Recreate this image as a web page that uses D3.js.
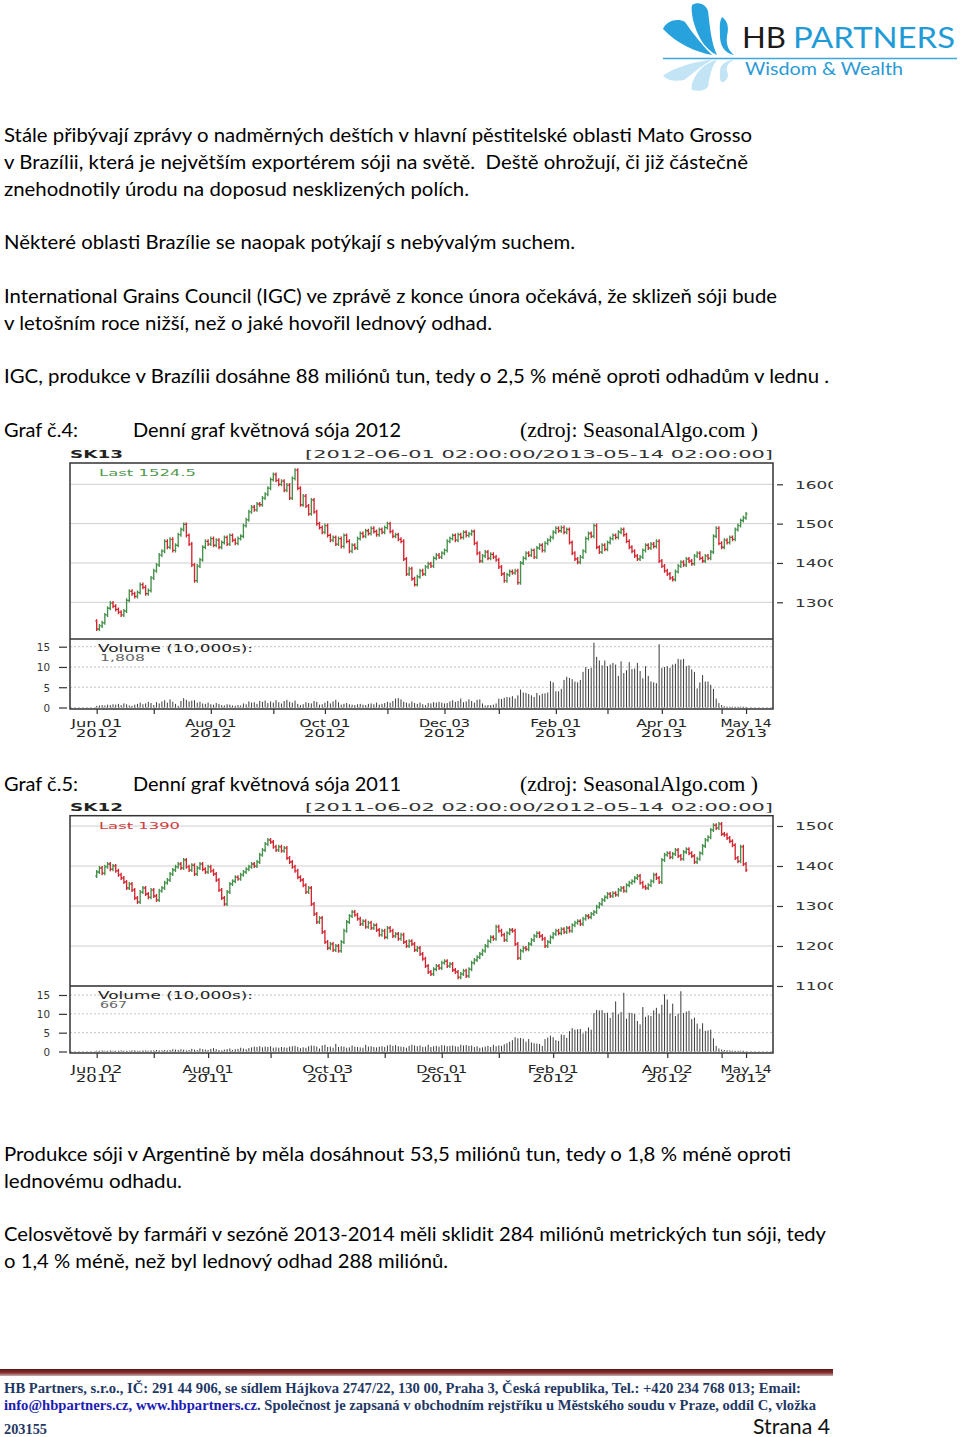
<!DOCTYPE html>
<html><head><meta charset="utf-8">
<script src="https://cdn.jsdelivr.net/npm/d3@7"></script>
<style>body{margin:0;background:#fff} svg{display:block} text{white-space:pre}</style>
</head><body>
<svg id="page" width="960" height="1437"></svg>
<script>
// ================= DATA =================
const bodyLinesTop = [
  "Stále přibývají zprávy o nadměrných deštích v hlavní pěstitelské oblasti Mato Grosso",
  "v Brazílii, která je největším exportérem sóji na světě.  Deště ohrožují, či již částečně",
  "znehodnotily úrodu na doposud nesklizených polích.",
  "Některé oblasti Brazílie se naopak potýkají s nebývalým suchem.",
  "International Grains Council (IGC) ve zprávě z konce února očekává, že sklizeň sóji bude",
  "v letošním roce nižší, než o jaké hovořil lednový odhad.",
  "IGC, produkce v Brazílii dosáhne 88 miliónů tun, tedy o 2,5 % méně oproti odhadům v lednu ."
];
const bodyLinesBottom = [
  "Produkce sóji v Argentině by měla dosáhnout 53,5 miliónů tun, tedy o 1,8 % méně oproti",
  "lednovému odhadu.",
  "Celosvětově by farmáři v sezóně 2013-2014 měli sklidit 284 miliónů metrických tun sóji, tedy",
  "o 1,4 % méně, než byl lednový odhad 288 miliónů."
];
const chartTitles = [
  ["Graf č.4:", "Denní graf květnová sója 2012", "(zdroj: SeasonalAlgo.com )"],
  ["Graf č.5:", "Denní graf květnová sója 2011", "(zdroj: SeasonalAlgo.com )"]
];

// ---- Chart 1: SK13 (2012-06-01 .. 2013-05-14) ----
const sk13Symbol = "SK13";
const sk13Range = "[2012-06-01 02:00:00/2013-05-14 02:00:00]";
const sk13Holidays = ["2012-07-04","2012-09-03","2012-11-22","2012-12-25","2013-01-01","2013-01-21","2013-02-18","2013-03-29"];
const sk13FirstOpen = 1252;
const sk13Close = [
  1232,1240,1248,1268,1285,1298,1290,1282,1275,1268,
  1278,1305,1328,1322,1315,1325,1345,1338,1322,1330,
  1362,1380,1395,1420,1430,1455,1440,1460,1432,1445,
  1472,1485,1498,1470,1448,1395,1355,1392,1408,1440,
  1455,1448,1462,1445,1458,1440,1452,1465,1448,1470,
  1458,1450,1462,1468,1495,1510,1530,1542,1535,1550,
  1548,1565,1575,1590,1612,1625,1610,1600,1608,1585,
  1598,1565,1615,1636,1590,1548,1570,1545,1525,1560,
  1530,1500,1490,1478,1495,1470,1458,1465,1448,1462,
  1442,1470,1455,1430,1445,1438,1462,1475,1468,1482,
  1475,1488,1480,1472,1485,1478,1490,1500,1480,1468,
  1472,1460,1455,1410,1372,1385,1360,1345,1365,1380,
  1372,1390,1398,1392,1412,1420,1415,1425,1432,1455,
  1462,1470,1458,1472,1465,1478,1470,1474,1480,1450,
  1425,1405,1418,1428,1412,1422,1415,1408,1390,1372,
  1355,1370,1378,1375,1380,1350,1400,1412,1425,1420,
  1432,1415,1438,1445,1432,1450,1458,1465,1478,1488,
  1482,1490,1478,1485,1452,1425,1410,1402,1415,1430,
  1462,1475,1468,1495,1440,1428,1445,1435,1452,1462,
  1470,1465,1478,1485,1472,1455,1440,1430,1418,1410,
  1415,1432,1445,1438,1448,1442,1455,1405,1392,1380,
  1372,1362,1358,1378,1392,1402,1395,1410,1405,1398,
  1418,1425,1412,1405,1418,1412,1428,1468,1488,1450,
  1440,1458,1452,1465,1460,1485,1495,1508,1515,1524.5
];
const sk13Volume = [
  0.4,0.5,0.6,0.5,0.7,0.6,0.8,0.7,0.9,0.6,1.0,0.8,
  0.5,0.4,0.7,0.9,1.2,0.8,1.0,1.4,1.1,0.6,
  1.3,1.0,1.5,1.8,1.2,2.0,1.4,0.9,0.4,
  1.6,2.3,1.9,1.5,1.7,1.8,1.2,1.4,
  1.0,0.9,1.2,0.8,0.7,1.1,0.9,0.6,0.5,0.8,0.7,0.5,0.4,0.6,0.5,1.0,0.8,
  1.5,1.2,1.3,0.9,1.6,1.4,1.7,1.1,1.5,1.2,1.8,1.3,1.0,1.6,1.9,1.4,1.2,1.7,0.9,0.6,0.8,1.3,1.1,1.0,1.6,1.4,0.7,
  0.8,1.2,1.6,1.0,1.5,1.9,1.3,0.7,0.9,1.1,0.8,0.7,0.6,0.8,0.9,0.7,0.6,0.9,1.0,0.8,1.2,0.7,0.9,1.1,1.4,
  1.2,1.6,2.2,2.3,2.0,1.4,1.2,1.0,1.5,1.1,0.9,1.2,0.8,0.6,1.1,1.0,1.3,1.2,1.4,
  1.2,1.0,1.1,1.5,1.8,1.4,1.6,2.2,1.3,1.5,2.0,1.6,1.2,1.9,2.0,
  1.0,0.5,0.6,0.6,0.7,1.0,
  2.2,2.1,2.4,2.6,2.5,2.8,2.2,3.0,
  4.4,3.7,3.6,3.3,3.0,2.6,3.6,3.0,3.4,3.5,
  3.7,6.5,6.2,4.0,4.0,4.6,
  6.8,7.6,7.3,7.0,6.4,6.2,6.8,8.8,10.0,9.5,9.8,
  16.0,
  12.5,11.6,10.4,11.6,10.2,10.6,11.0,10.6,7.8,
  11.4,8.5,9.2,11.2,9.5,9.6,11.0,9.0,7.2,10.2,7.8,6.4,6.2,
  6.0,
  15.6,
  9.8,10.0,10.2,9.8,10.6,10.8,12.0,11.8,12.0,
  10.2,10.4,9.4,8.8,4.7,6.2,8.0,6.4,6.4,5.6,4.6,2.2,1.1,0.6,0.3,0.2,0.2,0.2,0.2,0.2,0.2,0.2,0.18
];
const sk13PriceTicks = [1300,1400,1500,1600];
const sk13VolTicks = [0,5,10,15];
const sk13DateTicks = ["2012-06-01","2012-07-02","2012-08-01","2012-09-04","2012-10-01","2012-11-01","2012-12-03","2013-01-02","2013-02-01","2013-03-01","2013-04-01","2013-05-01","2013-05-14"];
const sk13DateLabels = ["2012-06-01","2012-08-01","2012-10-01","2012-12-03","2013-02-01","2013-04-01","2013-05-14"];
const sk13LastLabel = "Last 1524.5";
const sk13VolValue = "1,808";

// ---- Chart 2: SK12 (2011-06-02 .. 2012-05-14) ----
const sk12Symbol = "SK12";
const sk12Range = "[2011-06-02 02:00:00/2012-05-14 02:00:00]";
const sk12Holidays = ["2011-07-04","2011-09-05","2011-11-24","2011-12-26","2012-01-02","2012-01-16","2012-02-20","2012-04-06"];
const sk12FirstOpen = 1375;
const sk12Close = [
  1385,1395,1382,1398,1405,1392,1400,1388,1378,1370,
  1360,1345,1355,1340,1320,1310,1335,1345,1330,1322,
  1340,1325,1315,1338,1345,1358,1365,1380,1390,1398,
  1405,1395,1415,1398,1390,1402,1380,1395,1405,1392,
  1385,1398,1388,1380,1365,1340,1320,1305,1335,1355,
  1362,1372,1368,1378,1385,1392,1398,1405,1400,1410,
  1428,1440,1455,1465,1460,1448,1440,1448,1438,1445,
  1420,1410,1398,1388,1372,1365,1352,1335,1345,1305,
  1280,1260,1270,1235,1210,1195,1205,1190,1200,1188,
  1210,1238,1260,1275,1285,1278,1268,1255,1262,1248,
  1258,1245,1252,1240,1228,1238,1222,1245,1238,1225,
  1230,1218,1228,1210,1200,1212,1205,1190,1195,1180,
  1168,1150,1135,1130,1142,1150,1145,1158,1162,1150,
  1155,1140,1135,1122,1130,1138,1125,1142,1158,1165,
  1172,1180,1188,1200,1212,1222,1218,1248,1238,1228,
  1215,1232,1240,1238,1205,1170,1188,1195,1192,1205,
  1215,1225,1232,1225,1218,1200,1210,1222,1230,1238,
  1232,1242,1235,1245,1238,1252,1258,1262,1255,1268,
  1275,1272,1280,1285,1298,1305,1315,1322,1330,1325,
  1332,1328,1340,1345,1338,1352,1358,1362,1370,1375,
  1358,1348,1345,1352,1362,1378,1370,1360,1415,1428,
  1432,1422,1430,1440,1425,1418,1435,1442,1432,1425,
  1410,1418,1432,1450,1465,1472,1490,1502,1495,1505,
  1480,1478,1470,1462,1452,1420,1412,1448,1405,1390
];
const sk12Volume = [
  0.2,0.2,0.3,0.2,0.2,0.3,0.2,0.2,0.2,0.3,0.2,0.2,0.2,0.3,0.3,0.2,0.2,0.3,0.3,0.2,0.3,0.3,0.4,0.3,0.3,0.4,0.3,0.4,
  0.6,0.5,0.4,0.6,0.5,0.3,0.4,0.7,0.5,0.4,0.8,0.6,
  0.5,0.4,0.7,0.9,0.6,0.4,0.3,0.5,0.6,0.8,0.4,0.6,0.7,1.0,0.8,0.6,0.9,1.1,
  1.3,1.2,1.4,1.1,1.3,1.2,1.4,1.0,1.1,1.0,1.2,1.1,1.0,1.3,1.4,1.5,1.2,0.9,
  1.1,1.0,1.4,1.6,1.5,1.3,0.8,1.6,1.8,1.2,1.3,1.0,2.0,
  1.2,1.4,1.3,1.0,1.1,1.6,1.3,1.2,1.1,1.0,1.8,1.3,1.4,1.2,1.1,1.3,1.4,1.2,1.6,1.8,1.5,1.7,1.4,1.3,1.2,1.0,1.5,1.8,1.6,1.4,
  1.6,1.2,1.3,1.8,1.2,1.4,1.5,1.3,1.7,1.6,1.4,1.5,1.6,1.4,1.3,1.8,1.6,1.7,1.5,1.6,1.2,1.4,1.0,1.1,1.3,1.5,1.2,1.8,1.4,1.6,1.5,1.9,
  2.2,2.6,3.0,
  3.8,3.5,3.6,3.4,2.6,3.3,
  2.4,2.2,2.1,2.0,1.5,
  3.3,3.7,4.2,3.8,
  3.0,2.8,
  4.5,4.4,3.6,
  5.4,
  6.2,5.8,5.9,6.0,4.8,
  5.4,
  6.4,5.8,
  10.2,11.0,10.9,11.0,10.2,
  10.3,8.9,10.4,
  13.3,
  9.9,10.5,
  15.6,
  8.7,10.3,10.2,10.0,8.1,
  7.2,
  11.8,
  9.2,9.6,9.4,10.9,
  11.6,10.0,12.4,
  15.2,
  13.8,
  10.1,12.7,
  9.4,10.0,
  16.0,
  10.2,10.6,10.8,
  8.6,9.0,7.4,
  6.0,7.5,
  5.5,5.6,5.8,
  3.5,
  1.5,
  0.8,0.5,0.4,0.3,0.3,0.2,0.2,0.2,0.2,0.2,0.07
];
const sk12PriceTicks = [1100,1200,1300,1400,1500];
const sk12VolTicks = [0,5,10,15];
const sk12DateTicks = ["2011-06-02","2011-07-01","2011-08-01","2011-09-01","2011-10-03","2011-11-01","2011-12-01","2012-01-03","2012-02-01","2012-03-01","2012-04-02","2012-05-01","2012-05-14"];
const sk12DateLabels = ["2011-06-02","2011-08-01","2011-10-03","2011-12-01","2012-02-01","2012-04-02","2012-05-14"];
const sk12LastLabel = "Last 1390";
const sk12VolValue = "667";

// ================= DRAWING =================
const svg = d3.select("#page");
const defs = svg.append("defs");
const parse = d3.timeParse("%Y-%m-%d");
const fmt = d3.timeFormat("%Y-%m-%d");
const BODY_FONT = "Lato, 'Open Sans', sans-serif";
const CHART_FONT = "'DejaVu Sans', Verdana, sans-serif";

function tradingDays(start, end, holidays) {
  const hs = new Set(holidays);
  return d3.timeDay.range(parse(start), d3.timeDay.offset(parse(end), 1))
    .filter(d => d.getDay() !== 0 && d.getDay() !== 6 && !hs.has(fmt(d)))
    .map(fmt);
}

function fitText(sel, x, y, str, width, opts = {}) {
  const t = sel.append("text")
    .attr("x", x).attr("y", y)
    .attr("font-family", opts.family || BODY_FONT)
    .attr("font-size", opts.size || 19)
    .attr("font-weight", opts.weight || "normal")
    .attr("fill", opts.fill || "#000")
    .attr("text-anchor", opts.anchor || "start")
    .text(str);
  if (width) t.attr("textLength", width).attr("lengthAdjust", "spacingAndGlyphs");
  return t;
}

// ---------- Logo ----------
(function logo() {
  const g = svg.append("g");
  const blue = "#27a2dc";
  const blades = [
    "M663,29 C667,20 678,18 685,22 C694,35 703,46 712,55 C696,52 677,44 663,29 Z",
    "M692,5 C698,1 706,4 708,11 C710,27 711,42 717,55 C704,49 697,35 693,20 C692,14 691,9 692,5 Z",
    "M722,17 C728,21 729,28 727,36 C726,44 728,50 734,55 C724,53 720,45 720,36 C720,28 719,22 722,17 Z"
  ];
  const top = g.append("g");
  blades.forEach(d => top.append("path").attr("d", d).attr("fill", blue));
  const refl = g.append("g").attr("transform", "translate(0," + (58 + 58 * 0.6) + ") scale(1,-0.6)").attr("opacity", 0.28);
  blades.forEach(d => refl.append("path").attr("d", d).attr("fill", blue));
  g.append("line").attr("x1", 663).attr("x2", 957).attr("y1", 58.5).attr("y2", 58.5)
    .attr("stroke", "#3aa8de").attr("stroke-width", 1.5);
  fitText(g, 742, 48, "HB", 44, { size: 29, fill: "#1b1b1b" });
  fitText(g, 793, 48, "PARTNERS", 162, { size: 29, fill: "#1f9bd7" });
  fitText(g, 745, 75, "Wisdom & Wealth", 158, { size: 17, fill: "#2a9ad6" });
})();

// ---------- Body text ----------
const topWidths = [748, 744, 465, 571, 773, 488, 825];
const topBaselines = [142, 169, 196, 249, 303, 330, 383];
bodyLinesTop.forEach((s, i) => fitText(svg, 4, topBaselines[i], s, topWidths[i]));

const bottomWidths = [787, 178, 822, 444];
const bottomBaselines = [1161, 1188, 1241, 1268];
bodyLinesBottom.forEach((s, i) => fitText(svg, 4, bottomBaselines[i], s, bottomWidths[i]));

[437, 791].forEach((y, i) => {
  fitText(svg, 4, y, chartTitles[i][0], 74);
  fitText(svg, 133, y, chartTitles[i][1], 268);
  fitText(svg, 520, y, chartTitles[i][2], 238, { family: "'Liberation Serif', 'Times New Roman', serif", size: 21 });
});

// shared clip for right-hand axis labels (page-level coordinates)
defs.append("clipPath").attr("id", "rightClip").append("rect")
  .attr("x", 0).attr("y", 0).attr("width", 833).attr("height", 1437);

// ---------- Charts ----------
let clipId = 0;
function drawChart(c) {
  const g = svg.append("g");
  const dates = tradingDays(c.start, c.end, c.holidays);
  const n = Math.min(dates.length, c.close.length);
  const dom = dates.slice(0, n);
  const x = d3.scalePoint().domain(dom).range([96.7, 96.7 + (n - 1) * 2.717]);
  const y = d3.scaleLinear().domain(c.priceDomain).range(c.priceRange);
  const vy = d3.scaleLinear().domain([0, 15]).range(c.volRange);
  const L = 70, R = 773;

  // header
  fitText(g, L, c.headerY, c.symbol, 53, { family: CHART_FONT, size: 11, weight: "bold", fill: "#222" });
  fitText(g, 305, c.headerY, c.range, 468, { family: CHART_FONT, size: 11, fill: "#333" });

  // price grid
  g.selectAll(".pg").data(c.priceTicks).join("line")
    .attr("x1", L).attr("x2", R).attr("y1", d => y(d)).attr("y2", d => y(d))
    .attr("stroke", "#cfcfcf").attr("stroke-width", 1);
  // volume grid (dotted)
  g.selectAll(".vg").data(c.volTicks).join("line")
    .attr("x1", L).attr("x2", R).attr("y1", d => vy(d)).attr("y2", d => vy(d))
    .attr("stroke", "#c4c4c4").attr("stroke-width", 1).attr("stroke-dasharray", "2,2");

  // clip for price panel
  const cid = "clip" + (clipId++);
  defs.append("clipPath").attr("id", cid).append("rect")
    .attr("x", L).attr("y", c.boxTop).attr("width", R - L).attr("height", c.sepY - c.boxTop);

  const bars = dom.map((d, i) => ({ d, o: i === 0 ? c.firstOpen : c.close[i - 1], c: c.close[i] }));
  const pb = g.append("g").attr("clip-path", "url(#" + cid + ")");
  const col = b => b.c >= b.o ? "#44904a" : "#d2252f";
  pb.selectAll(".bar").data(bars).join("path")
    .attr("d", b => {
      const xx = x(b.d), yo = y(b.o), yc = y(b.c);
      const lo = Math.max(yo, yc) + 2, hi = Math.min(yo, yc) - 2;
      return `M${xx},${lo}V${hi}M${xx - 1.4},${yo}H${xx}M${xx},${yc}H${xx + 1.4}`;
    })
    .attr("stroke", col).attr("stroke-width", 1.35).attr("fill", "none");

  // volume bars
  const vols = dom.map((d, i) => ({ d, v: c.volume[i] || 0 }));
  g.selectAll(".vb").data(vols).join("line")
    .attr("x1", v => x(v.d)).attr("x2", v => x(v.d))
    .attr("y1", vy(0)).attr("y2", v => vy(v.v))
    .attr("stroke", "#3c3c3c").attr("stroke-width", 1);

  // box
  g.append("rect").attr("x", L).attr("y", c.boxTop).attr("width", R - L).attr("height", c.boxBottom - c.boxTop)
    .attr("fill", "none").attr("stroke", "#333").attr("stroke-width", 1.5);
  g.append("line").attr("x1", L).attr("x2", R).attr("y1", c.sepY).attr("y2", c.sepY)
    .attr("stroke", "#333").attr("stroke-width", 1.5);

  // right price axis (clipped at the picture's right edge, as in the source image)
  const rwrap = g.append("g").attr("clip-path", "url(#rightClip)");
  const ra = rwrap.append("g").attr("transform", "translate(777,0)")
    .call(d3.axisRight(y).tickValues(c.priceTicks).tickSize(6).tickFormat(d3.format("d")));
  ra.select(".domain").remove();
  ra.selectAll(".tick line").attr("stroke", "#333").attr("stroke-width", 1.2);
  ra.selectAll(".tick text").attr("x", 18).attr("dy", "0.36em")
    .attr("font-family", CHART_FONT).attr("font-size", 11).attr("fill", "#333")
    .attr("textLength", 43).attr("lengthAdjust", "spacingAndGlyphs");

  // left volume axis
  const la = g.append("g").attr("transform", "translate(67,0)")
    .call(d3.axisLeft(vy).tickValues(c.volTicks).tickSize(8).tickFormat(d3.format("d")));
  la.select(".domain").remove();
  la.selectAll(".tick line").attr("stroke", "#333").attr("stroke-width", 1.2);
  la.selectAll(".tick text").attr("x", -17).attr("dy", "0.36em")
    .attr("font-family", CHART_FONT).attr("font-size", 10.5).attr("fill", "#333")
    .attr("textLength", d => String(d).length * 6.6).attr("lengthAdjust", "spacingAndGlyphs");

  // bottom date axis
  const ba = g.append("g").attr("transform", `translate(0,${c.boxBottom})`)
    .call(d3.axisBottom(x).tickValues(c.dateTicks.filter(d => x(d) !== undefined)).tickSize(5).tickFormat(""));
  ba.select(".domain").remove();
  ba.selectAll(".tick line").attr("stroke", "#333").attr("stroke-width", 1.2);
  const tf1 = d3.timeFormat("%b %d"), tf2 = d3.timeFormat("%Y");
  c.dateLabels.filter(d => x(d) !== undefined).forEach(d => {
    fitText(g, x(d), c.dateY1, tf1(parse(d)), 51, { family: CHART_FONT, size: 10, fill: "#222", anchor: "middle" });
    fitText(g, x(d), c.dateY2, tf2(parse(d)), 42, { family: CHART_FONT, size: 10, fill: "#222", anchor: "middle" });
  });

  // labels inside panels
  fitText(g, 99, c.lastY, c.lastLabel, c.lastW, { family: CHART_FONT, size: 9.5, fill: c.lastColor });
  fitText(g, 98, c.volLabelY, "Volume (10,000s):", 155, { family: CHART_FONT, size: 10, fill: "#222" });
  fitText(g, 100, c.volLabelY + 9, c.volValue, c.volValue.length * 9, { family: CHART_FONT, size: 9.5, fill: "#666" });
}

drawChart({
  start: "2012-06-01", end: "2013-05-14", holidays: sk13Holidays,
  close: sk13Close, firstOpen: sk13FirstOpen, volume: sk13Volume,
  symbol: sk13Symbol, range: sk13Range,
  priceTicks: sk13PriceTicks, volTicks: sk13VolTicks,
  dateTicks: sk13DateTicks, dateLabels: sk13DateLabels,
  lastLabel: sk13LastLabel, lastColor: "#4f9a4f", lastW: 97,
  volValue: sk13VolValue,
  headerY: 457.5, boxTop: 463, sepY: 639, boxBottom: 709,
  priceDomain: [1300, 1600], priceRange: [602.3, 484.3],
  volRange: [707.5, 646.7],
  lastY: 476, volLabelY: 651.5, dateY1: 727, dateY2: 736.5
});

drawChart({
  start: "2011-06-02", end: "2012-05-14", holidays: sk12Holidays,
  close: sk12Close, firstOpen: sk12FirstOpen, volume: sk12Volume,
  symbol: sk12Symbol, range: sk12Range,
  priceTicks: sk12PriceTicks, volTicks: sk12VolTicks,
  dateTicks: sk12DateTicks, dateLabels: sk12DateLabels,
  lastLabel: sk12LastLabel, lastColor: "#d03a3a", lastW: 81,
  volValue: sk12VolValue,
  headerY: 811, boxTop: 815.7, sepY: 986, boxBottom: 1053,
  priceDomain: [1100, 1500], priceRange: [986, 826],
  volRange: [1051.5, 995],
  lastY: 828.5, volLabelY: 999, dateY1: 1073, dateY2: 1082
});

// ---------- Footer ----------
const grad = defs.append("linearGradient").attr("id", "fbar").attr("x1", 0).attr("x2", 0).attr("y1", 0).attr("y2", 1);
grad.append("stop").attr("offset", "0%").attr("stop-color", "#5a1616");
grad.append("stop").attr("offset", "55%").attr("stop-color", "#8a3333");
grad.append("stop").attr("offset", "100%").attr("stop-color", "#c9b3b3");
svg.append("rect").attr("x", 0).attr("y", 1369).attr("width", 833).attr("height", 7).attr("fill", "url(#fbar)");

const SERIF = "'Liberation Serif', 'Times New Roman', serif";
fitText(svg, 4, 1393, "HB Partners, s.r.o., IČ: 291 44 906, se sídlem Hájkova 2747/22, 130 00, Praha 3, Česká republika, Tel.: +420 234 768 013; Email:", 797,
  { family: SERIF, size: 14, weight: "bold", fill: "#1f3864" });
fitText(svg, 4, 1410, "info@hbpartners.cz, www.hbpartners.cz", 253, { family: SERIF, size: 14, weight: "bold", fill: "#1c1cb4" });
fitText(svg, 257, 1410, ". Společnost je zapsaná v obchodním rejstříku u Městského soudu v Praze, oddíl C, vložka", 559,
  { family: SERIF, size: 14, weight: "bold", fill: "#1f3864" });
fitText(svg, 4, 1434, "203155", 43, { family: SERIF, size: 14, weight: "bold", fill: "#1f3864" });
fitText(svg, 753, 1434, "Strana 4", 77, { size: 21, fill: "#111" });
</script>
</body></html>
